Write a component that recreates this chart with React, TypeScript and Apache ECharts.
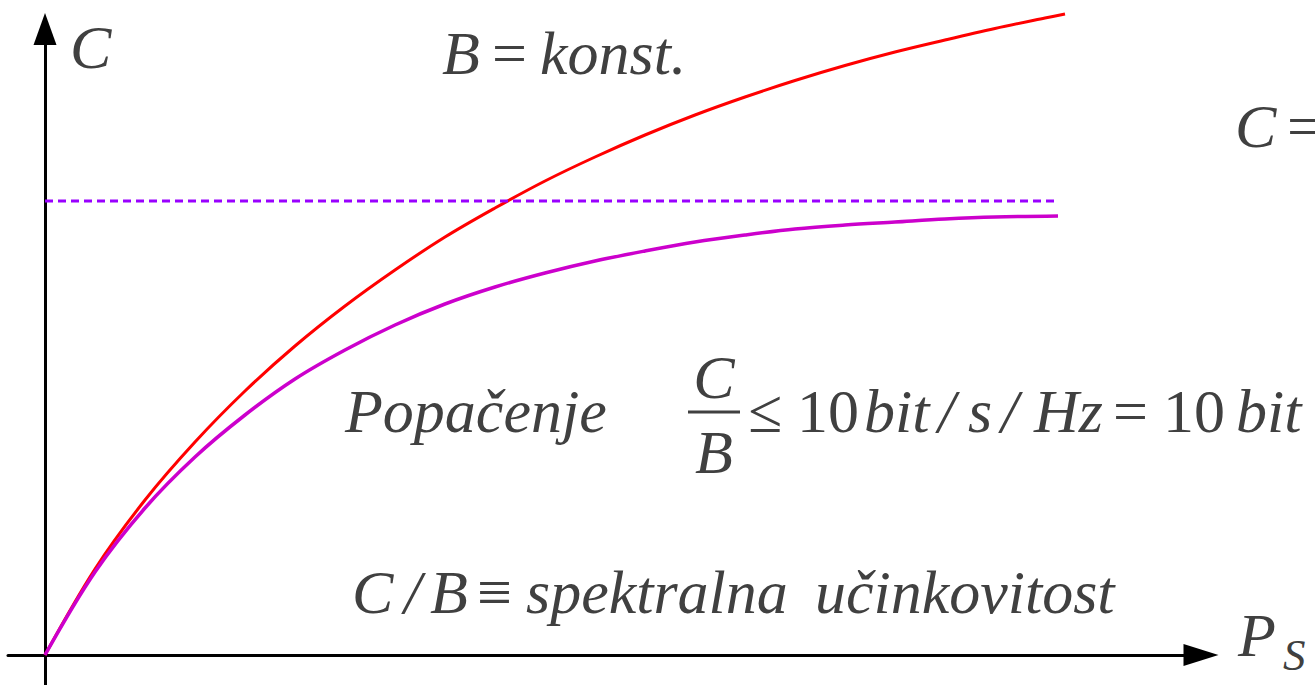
import React, { useEffect, useRef } from "react";
import * as echarts from "echarts";

// Capacity vs. signal power at constant bandwidth (red)
const constBandwidthP = [0, 0.5, 1, 1.5, 2, 2.5, 3, 3.5, 4, 4.5, 5, 5.5, 6, 6.5, 7, 7.5, 8, 8.5, 9, 9.5, 10, 10.2];
const constBandwidthC = [0, 0.86, 1.55, 2.13, 2.64, 3.09, 3.49, 3.85, 4.18, 4.47, 4.74, 4.98, 5.2, 5.4, 5.58, 5.745, 5.895, 6.03, 6.15, 6.265, 6.37, 6.41];

// Capacity with distortion limit (magenta)
const distortedP = [0, 0.5, 1, 1.5, 2, 2.5, 3, 3.5, 4, 4.5, 5, 5.5, 6, 6.5, 7, 7.5, 8, 8.5, 9, 9.5, 10.13];
const distortedC = [0, 0.83, 1.47, 1.98, 2.4, 2.76, 3.05, 3.3, 3.51, 3.68, 3.82, 3.94, 4.04, 4.13, 4.2, 4.26, 4.3, 4.33, 4.36, 4.38, 4.39];

// Asymptotic limit (dashed)
const limitP = [0, 10.13];
const limitC = [4.54, 4.54];

const pairs = (xs: number[], ys: number[]) => xs.map((x, i) => [x, ys[i]]);

const TEXT_COLOR = "#404040";
const FONT_FAMILY = '"Liberation Serif", "Times New Roman", serif';

function label(text: string, x: number, y: number, opts: { size?: number; italic?: boolean; align?: string } = {}) {
  const size = opts.size ?? 62;
  const italic = opts.italic ?? true;
  const align = opts.align ?? "left";
  return {
    type: "text",
    x,
    y,
    silent: true,
    style: {
      text,
      font: `${italic ? "italic " : ""}${size}px ${FONT_FAMILY}`,
      fill: TEXT_COLOR,
      textAlign: align,
      align,
      textVerticalAlign: "middle",
      verticalAlign: "middle",
    },
  };
}

export default function App() {
  const ref = useRef<HTMLDivElement>(null);

  useEffect(() => {
    document.body.style.margin = "0";
    const chart = echarts.init(ref.current!, null, { renderer: "svg" });

    const axisCommon = {
      type: "value",
      axisTick: { show: false },
      axisLabel: { show: false },
      splitLine: { show: false },
    };

    const up = { italic: false };

    chart.setOption({
      animation: false,
      backgroundColor: "#ffffff",
      grid: { left: 8, right: 114, top: 29, bottom: 0 },
      xAxis: {
        ...axisCommon,
        min: -0.37,
        max: 11.56,
        axisLine: {
          onZero: true,
          symbol: ["none", "triangle"],
          symbolSize: [22, 35],
          lineStyle: { color: "#000000", width: 3 },
        },
      },
      yAxis: {
        ...axisCommon,
        min: -0.3,
        max: 6.26,
        axisLine: {
          onZero: true,
          symbol: ["none", "triangle"],
          symbolSize: [23, 32],
          lineStyle: { color: "#000000", width: 3 },
        },
      },
      series: [
        {
          type: "line",
          data: pairs(constBandwidthP, constBandwidthC),
          smooth: 0.35,
          showSymbol: false,
          clip: false,
          lineStyle: { color: "#ff0000", width: 3 },
          z: 3,
        },
        {
          type: "line",
          data: pairs(limitP, limitC),
          showSymbol: false,
          clip: false,
          lineStyle: { color: "#9900ff", width: 3, type: [8, 5] },
          z: 4,
        },
        {
          type: "line",
          data: pairs(distortedP, distortedC),
          smooth: 0.35,
          showSymbol: false,
          clip: false,
          lineStyle: { color: "#cc00cc", width: 3.5 },
          z: 5,
        },
      ],
      graphic: [
        // axis names
        label("C", 70, 47),
        label("P", 1238, 635),
        label("S", 1283, 655, { size: 45 }),

        // B = konst.
        label("B", 442, 53),
        label("=", 492, 53, up),
        label("konst.", 540, 53),

        // C = (continues past the right edge)
        label("C", 1235, 126),
        label("=", 1287, 126, up),

        // Popačenje   C/B ≤ 10 bit/s/Hz = 10 bit
        label("Popačenje", 345, 411),
        label("C", 714, 377, { align: "center" }),
        {
          type: "line",
          silent: true,
          shape: { x1: 688, y1: 412, x2: 740, y2: 412 },
          style: { stroke: TEXT_COLOR, lineWidth: 3 },
        },
        label("B", 714, 452, { align: "center" }),
        label("≤", 748, 411, up),
        label("10", 797, 411, up),
        label("bit", 864, 411),
        label("/", 938, 411),
        label("s", 968, 411),
        label("/", 1001, 411),
        label("Hz", 1034, 411),
        label("=", 1113, 411, up),
        label("10", 1163, 411, up),
        label("bit", 1236, 411),

        // C/B ≡ spektralna učinkovitost
        label("C", 352, 592),
        label("/", 404, 592),
        label("B", 430, 592),
        label("≡", 477, 592, up),
        label("spektralna", 526, 592),
        label("učinkovitost", 815, 592),
      ],
    });

    return () => chart.dispose();
  }, []);

  return <div ref={ref} style={{ width: 1315, height: 685 }} />;
}
